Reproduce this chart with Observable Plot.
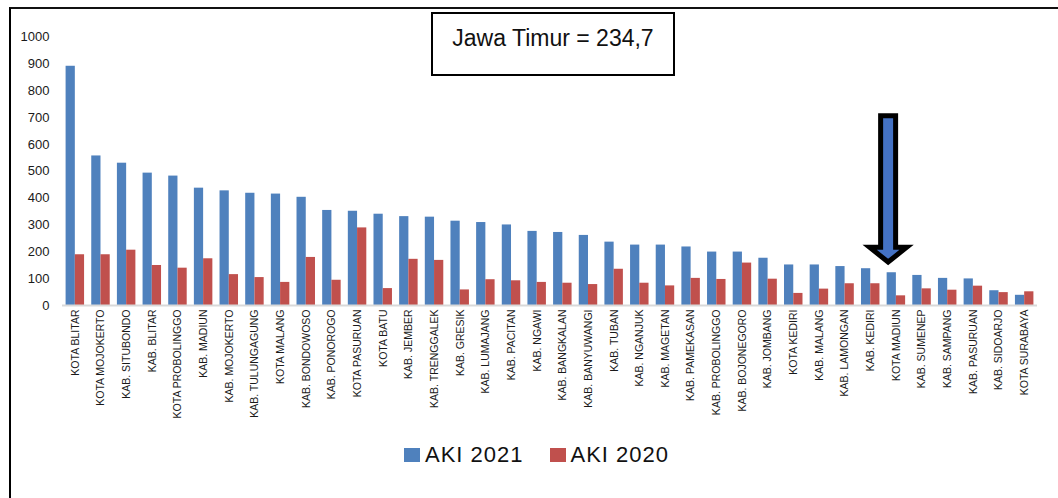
<!DOCTYPE html>
<html>
<head>
<meta charset="utf-8">
<script src="https://cdn.jsdelivr.net/npm/d3@7"></script>
<script src="https://cdn.jsdelivr.net/npm/@observablehq/plot@0.6"></script>
<style>
  body { margin: 0; background: #fff; }
  #wrap { position: relative; width: 1058px; height: 498px; overflow: hidden; background: #fff;
          font-family: "Liberation Sans", Arial, sans-serif; }
  #chart { position: absolute; left: 0; top: 0; }
  #frame { position: absolute; left: 9px; top: 7px; right: -10px; bottom: -10px;
           border-left: 2.5px solid #000; border-top: 2px solid #111; pointer-events: none; }
  #title { position: absolute; left: 431px; top: 12px; width: 244px; height: 64px; box-sizing: border-box;
           border: 2px solid #000; text-align: center; font-size: 23px; line-height: 23px;
           padding-top: 13px; color: #111; background: #fff; }
  #legend { position: absolute; left: 404px; top: 442px; display: flex; gap: 26px; align-items: center; }
  .item { display: flex; align-items: center; font-size: 22px; letter-spacing: 1px; color: #111; line-height: 26px; }
  .sw { width: 16px; height: 14px; margin-right: 5px; }
</style>
</head>
<body>
<div id="wrap">
  <div id="chart"></div>
  <div id="title"></div>
  <div id="legend"></div>
  <div id="frame"></div>
</div>
<script>
const categories = [
  "KOTA BLITAR", "KOTA MOJOKERTO", "KAB. SITUBONDO", "KAB. BLITAR", "KOTA PROBOLINGGO",
  "KAB. MADIUN", "KAB. MOJOKERTO", "KAB. TULUNGAGUNG", "KOTA MALANG", "KAB. BONDOWOSO",
  "KAB. PONOROGO", "KOTA PASURUAN", "KOTA BATU", "KAB. JEMBER", "KAB. TRENGGALEK",
  "KAB. GRESIK", "KAB. LUMAJANG", "KAB. PACITAN", "KAB. NGAWI", "KAB. BANGKALAN",
  "KAB. BANYUWANGI", "KAB. TUBAN", "KAB. NGANJUK", "KAB. MAGETAN", "KAB. PAMEKASAN",
  "KAB. PROBOLINGGO", "KAB. BOJONEGORO", "KAB. JOMBANG", "KOTA KEDIRI", "KAB. MALANG",
  "KAB. LAMONGAN", "KAB. KEDIRI", "KOTA MADIUN", "KAB. SUMENEP", "KAB. SAMPANG",
  "KAB. PASURUAN", "KAB. SIDOARJO", "KOTA SURABAYA"
];
const aki2021 = [
  891, 557, 530, 493, 482, 437, 427, 418, 415, 403,
  354, 351, 340, 331, 329, 314, 309, 300, 276, 272,
  261, 236, 225, 225, 218, 199, 199, 176, 151, 151,
  145, 137, 122, 112, 101, 99, 55, 38
];
const aki2020 = [
  189, 189, 206, 149, 139, 174, 115, 104, 86, 179,
  94, 289, 63, 172, 168, 58, 96, 92, 86, 83,
  78, 135, 83, 73, 101, 97, 158, 98, 45, 61,
  81, 81, 36, 62, 57, 72, 48, 51
];
const seriesNames = ["AKI 2021", "AKI 2020"];
const seriesColors = ["#4F81BD", "#C0504D"];
const yTicks = [0, 100, 200, 300, 400, 500, 600, 700, 800, 900, 1000];
const titleText = "Jawa Timur = 234,7";
const highlight = "KOTA MADIUN";
const arrowTop = 705, arrowNeck = 215, arrowTip = 160;

const rows = categories.map((c, i) => ({kab: c, a21: aki2021[i], a20: aki2020[i]}));

const W = 1058, H = 430, mL = 62, mR = 21, mT = 36.5, mB = H - 305;
const padIn = 0.28;
const step = (W - mL - mR) / categories.length;
const bw = step * (1 - padIn);
const half = bw / 2;

const plot = Plot.plot({
  width: W, height: H,
  marginLeft: mL, marginRight: mR, marginTop: mT, marginBottom: mB,
  style: {background: "transparent", fontFamily: "'Liberation Sans', Arial, sans-serif", color: "#1a1a1a"},
  x: {type: "band", domain: categories, paddingInner: padIn, paddingOuter: padIn / 2, round: false, label: null},
  y: {domain: [0, 1000], label: null},
  marks: [
    Plot.barY(rows, {x: "kab", y: "a21", fill: seriesColors[0], insetRight: half}),
    Plot.barY(rows, {x: "kab", y: "a20", fill: seriesColors[1], insetLeft: half}),
    Plot.ruleY([0], {stroke: "#d9d9d9", strokeWidth: 2}),
    Plot.axisY({ticks: yTicks, tickFormat: d => String(d), tickSize: 0, tickPadding: 13, fontSize: 13, label: null}),
    Plot.axisX({tickSize: 0, tickPadding: 4, tickRotate: -90, fontSize: 10.5, label: null})
  ]
});
document.getElementById("chart").appendChild(plot);

// highlight arrow anchored to the data scales
const sx = plot.scale("x"), sy = plot.scale("y");
const xf = sx.apply ? sx.apply : d3.scaleBand(sx.domain, sx.range).paddingInner(sx.paddingInner).paddingOuter(sx.paddingOuter);
const yf = sy.apply ? sy.apply : d3.scaleLinear(sy.domain, sy.range);
const cx = xf(highlight) + bw * 0.08;
const sh = 7.5, hh = 18.5;
const pts = [
  [cx - sh, yf(arrowTop)], [cx + sh, yf(arrowTop)], [cx + sh, yf(arrowNeck)], [cx + hh, yf(arrowNeck)],
  [cx, yf(arrowTip)], [cx - hh, yf(arrowNeck)], [cx - sh, yf(arrowNeck)]
];
d3.select(plot).append("path")
  .attr("d", "M" + pts.map(p => p.join(",")).join("L") + "Z")
  .attr("fill", "#4472C4").attr("stroke", "#000").attr("stroke-width", 5).attr("stroke-linejoin", "miter");

document.getElementById("title").textContent = titleText;

const legend = d3.select("#legend");
seriesNames.forEach((name, i) => {
  const it = legend.append("div").attr("class", "item");
  it.append("div").attr("class", "sw").style("background", seriesColors[i]);
  it.append("span").text(name);
});
</script>
</body>
</html>
